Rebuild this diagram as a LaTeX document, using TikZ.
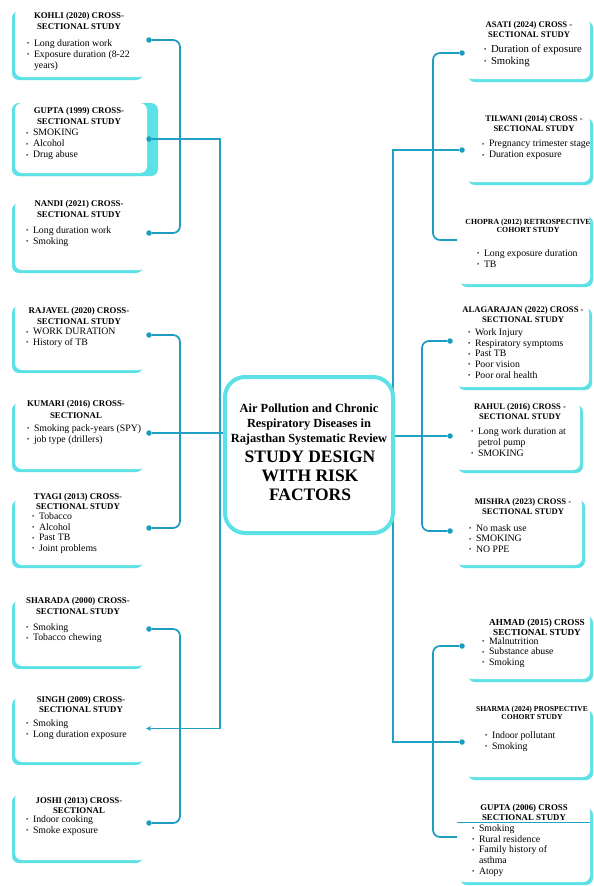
\documentclass[tikz,border=0pt]{standalone}
\usepackage{fontspec}
\setmainfont{Liberation Serif}
\usetikzlibrary{fit,shadows,arrows.meta,calc}
\definecolor{cardcyan}{HTML}{5CE1E6}
\definecolor{lnteal}{HTML}{1C9DBF}
\definecolor{trteal}{HTML}{1FA2C4}
\pgfdeclarelayer{fg}
\pgfsetlayers{main,fg}
\newcommand\bul{\makebox[6.8pt][l]{\raisebox{0.6pt}{\fontsize{6.5}{6.5}\selectfont\textbullet}}}
\newcommand\cont{\hspace*{6.8pt}}
\newcommand\tf[2]{\bfseries\fontsize{#1}{#2}\selectfont}
\newcommand\rf[2]{\fontsize{#1}{#2}\selectfont}
\begin{document}
\begin{tikzpicture}[x=1pt,y=-1pt,
  lcard/.style={fill=white, rounded corners=7pt, inner sep=0pt,
    general shadow={fill=cardcyan, shadow xshift=-3pt, shadow yshift=-3pt}},
  rcard/.style={fill=white, rounded corners=7pt, inner sep=0pt,
    general shadow={fill=cardcyan, shadow xshift=3pt, shadow yshift=-3pt}},
  ttl/.style={anchor=north, align=center, inner sep=0pt},
  itm/.style={anchor=north west, align=left, inner sep=0pt},
  dot/.style={circle, fill=lnteal, inner sep=0pt, minimum size=5.5pt},
  bracket/.style={draw=lnteal, line width=1.7pt, rounded corners=7pt},
  trunk/.style={draw=trteal, line width=1.3pt}]
\useasboundingbox (0,0) rectangle (594,886);
\fill[white] (0,0) rectangle (594,886);

% ---------------- hub (foreground layer) ----------------
\begin{pgfonlayer}{fg}
\node[draw=cardcyan, line width=4pt, fill=white, rounded corners=20pt, inner sep=0pt,
      fit={(225,377) (393,533)}] (hub) {};
\node[ttl, font=\tf{12.4}{15}] (hubs) at (309,404)
  {Air Pollution and Chronic\\Respiratory Diseases in\\Rajasthan Systematic Review};
\node[ttl, font=\tf{17.5}{19}] (hubb) at (310,451) {STUDY DESIGN\\WITH RISK\\FACTORS};
\end{pgfonlayer}

% ---------------- left cards ----------------
\node[lcard, fit={(15,8) (146,77)}] (kohli) {};
\node[ttl, font=\tf{8.8}{11}] (kohlit) at (79,11.8) {KOHLI (2020) CROSS-\\SECTIONAL STUDY};
\node[itm, font=\rf{9.8}{11}] (kohlii) at (27,39.3)
  {\bul Long duration work\\\bul Exposure duration (8-22\\\cont years)};

\fill[cardcyan, rounded corners=7pt] (12,103) rectangle (158,176);
\node[lcard, fit={(15,103) (147,173)}] (gupta) {};
\node[ttl, font=\tf{8.8}{11.5}] (guptat) at (79,106.8) {GUPTA (1999) CROSS-\\SECTIONAL STUDY};
\node[itm, font=\rf{9.8}{11}] (guptai) at (26,129.3)
  {\bul SMOKING\\\bul Alcohol\\\bul Drug abuse};

\node[lcard, fit={(15,200) (146,270)}] (nandi) {};
\node[ttl, font=\tf{8.8}{11}] (nandit) at (79,199.8) {NANDI (2021) CROSS-\\SECTIONAL STUDY};
\node[itm, font=\rf{9.8}{11}] (nandii) at (26,226.3)
  {\bul Long duration work\\\bul Smoking};

\node[lcard, fit={(15,303) (146,370)}] (rajavel) {};
\node[ttl, font=\tf{8.8}{11}] (rajavelt) at (79,306.8) {RAJAVEL (2020) CROSS-\\SECTIONAL STUDY};
\node[itm, font=\rf{9.8}{10.5}] (rajaveli) at (26,328.3)
  {\bul WORK DURATION\\\bul History of TB};

\node[lcard, fit={(15,400) (146,469)}] (kumari) {};
\node[ttl, font=\tf{8.8}{12}] (kumarit) at (76,399.8) {KUMARI (2016) CROSS-\\SECTIONAL};
\node[itm, font=\rf{9.8}{11}] (kumarii) at (27,424.3)
  {\bul Smoking pack-years (SPY)\\\bul job type (drillers)};

\node[lcard, fit={(15,497) (146,565)}] (tyagi) {};
\node[ttl, font=\tf{8.8}{10.5}] (tyagit) at (78,492.8) {TYAGI (2013) CROSS-\\SECTIONAL STUDY};
\node[itm, font=\rf{9.8}{10.7}] (tyagii) at (32,512.3)
  {\bul Tobacco\\\bul Alcohol\\\bul Past TB\\\bul Joint problems};

\node[lcard, fit={(15,598) (146,666)}] (sharada) {};
\node[ttl, font=\tf{8.8}{11}] (sharadat) at (78,596.8) {SHARADA (2000) CROSS-\\SECTIONAL STUDY};
\node[itm, font=\rf{9.8}{10.5}] (sharadai) at (26,623.3)
  {\bul Smoking\\\bul Tobacco chewing};

\node[lcard, fit={(15,695) (146,762)}] (singh) {};
\node[ttl, font=\tf{8.8}{10.5}] (singht) at (81,695.8) {SINGH (2009) CROSS-\\SECTIONAL STUDY};
\node[itm, font=\rf{9.8}{11}] (singhi) at (26,719.3)
  {\bul Smoking\\\bul Long duration exposure};

\node[lcard, fit={(15,792) (146,860)}] (joshi) {};
\node[ttl, font=\tf{8.8}{10.5}] (joshit) at (79,796.8) {JOSHI (2013) CROSS-\\SECTIONAL};
\node[itm, font=\rf{9.8}{11}] (joshii) at (26,815.3)
  {\bul Indoor cooking\\\bul Smoke exposure};

% ---------------- right cards ----------------
\node[rcard, fit={(465,18) (590,79)}] (asati) {};
\node[ttl, font=\tf{8.6}{9.5}] (asatit) at (529,21.8) {ASATI (2024) CROSS -\\SECTIONAL STUDY};
\node[itm, font=\rf{10.7}{12}] (asatii) at (484,44.3)
  {\bul Duration of exposure\\\bul Smoking};

\node[rcard, fit={(465,115) (590,182)}] (tilwani) {};
\node[ttl, font=\tf{8.5}{9.5}] (tilwanit) at (534,115.8) {TILWANI (2014) CROSS -\\SECTIONAL STUDY};
\node[itm, font=\rf{9.8}{11}] (tilwanii) at (482,140.3)
  {\bul Pregnancy trimester stage\\\bul Duration exposure};

\node[rcard, fit={(457,213) (590,284)}] (chopra) {};
\node[ttl, font=\tf{7.8}{8.5}] (choprat) at (528,218.8) {CHOPRA (2012) RETROSPECTIVE\\COHORT STUDY};
\node[itm, font=\rf{9.8}{11}] (choprai) at (477,249.3)
  {\bul Long exposure duration\\\bul TB};

\node[rcard, fit={(455,305) (589,387)}] (alaga) {};
\node[ttl, font=\tf{8.6}{10}] (alagat) at (523,306.8) {ALAGARAJAN (2022) CROSS -\\SECTIONAL STUDY};
\node[itm, font=\rf{9.8}{10.75}] (alagai) at (468,328.3)
  {\bul Work Injury\\\bul Respiratory symptoms\\\bul Past TB\\\bul Poor vision\\\bul Poor oral health};

\node[rcard, fit={(455,402) (580,470)}] (rahul) {};
\node[ttl, font=\tf{8.6}{10}] (rahult) at (520,403.8) {RAHUL (2016) CROSS -\\SECTIONAL STUDY};
\node[itm, font=\rf{9.8}{11}] (rahuli) at (471,427.3)
  {\bul Long work duration at\\\cont petrol pump\\\bul SMOKING};

\node[rcard, fit={(455,497) (582,565)}] (mishra) {};
\node[ttl, font=\tf{8.6}{10}] (mishrat) at (523,498.8) {MISHRA (2023) CROSS -\\SECTIONAL STUDY};
\node[itm, font=\rf{9.8}{10.5}] (mishrai) at (469,524.3)
  {\bul No mask use\\\bul SMOKING\\\bul NO PPE};

\node[rcard, fit={(465,613) (590,679)}] (ahmad) {};
\node[ttl, font=\tf{9.2}{10}] (ahmadt) at (537,618.8) {AHMAD (2015) CROSS\\SECTIONAL STUDY};
\node[itm, font=\rf{9.8}{10.5}] (ahmadi) at (482,637.3)
  {\bul Malnutrition\\\bul Substance abuse\\\bul Smoking};

\node[rcard, fit={(465,707) (590,777)}] (sharma) {};
\node[ttl, font=\tf{7.6}{8.5}] (sharmat) at (532,705.8) {SHARMA (2024) PROSPECTIVE\\COHORT STUDY};
\node[itm, font=\rf{9.8}{11}] (sharmai) at (485,731.3)
  {\bul Indoor pollutant\\\bul Smoking};

\node[rcard, fit={(457,805) (590,882)}] (gupta06) {};
\draw[trteal, line width=0.6pt] (gupta06.west |- 0,822) -- (gupta06.east |- 0,822);
\node[ttl, font=\tf{8.8}{10}] (gupta06t) at (524,803.8) {GUPTA (2006) CROSS\\SECTIONAL STUDY};
\node[itm, font=\rf{9.8}{10.7}] (gupta06i) at (472,824.3)
  {\bul Smoking\\\bul Rural residence\\\bul Family history of\\\cont asthma\\\bul Atopy};

% ---------------- dots and coordinates ----------------
\node[dot] (dk) at (149,40) {};
\node[dot] (dg) at (149,139) {};
\node[dot] (dn) at (149,233) {};
\node[dot] (dr) at (149,335) {};
\node[dot] (dku) at (149,433) {};
\node[dot] (dty) at (149,528) {};
\node[dot] (dsa) at (149,629) {};
\node[dot] (djo) at (149,823) {};
\node[dot] (das) at (462,53) {};
\node[dot] (dti) at (462,150) {};
\node[dot] (dal) at (450,341) {};
\node[dot] (drh) at (450,436) {};
\node[dot] (dmi) at (450,531) {};
\node[dot] (dah) at (462,646) {};
\node[dot] (dsh) at (462,742) {};
\coordinate (cch) at (457,240);
\coordinate (cgu) at (457,837);
\coordinate (tl) at (220,433);
\coordinate (tr) at (393,437);

% ---------------- connectors ----------------
\draw[trunk, -{Stealth[length=5pt,width=5pt]}] (dg) -| (tl) |- (singh.east);
\draw[trunk] (dku) -- (dku -| hub.west);
\draw[trunk] (dti) -| (tr) |- (dsh);
\draw[trunk] (hub.east |- drh) -- (drh);

\draw[bracket] (dk) -- ++(31,0) |- (dn);
\draw[bracket] (dr) -- ++(31,0) |- (dty);
\draw[bracket] (dsa) -- ++(31,0) |- (djo);
\draw[bracket] (das) -- ++(-29,0) |- (cch);
\draw[bracket] (dal) -- ++(-28,0) |- (dmi);
\draw[bracket] (dah) -- ++(-29,0) |- (cgu);
\end{tikzpicture}
\end{document}
